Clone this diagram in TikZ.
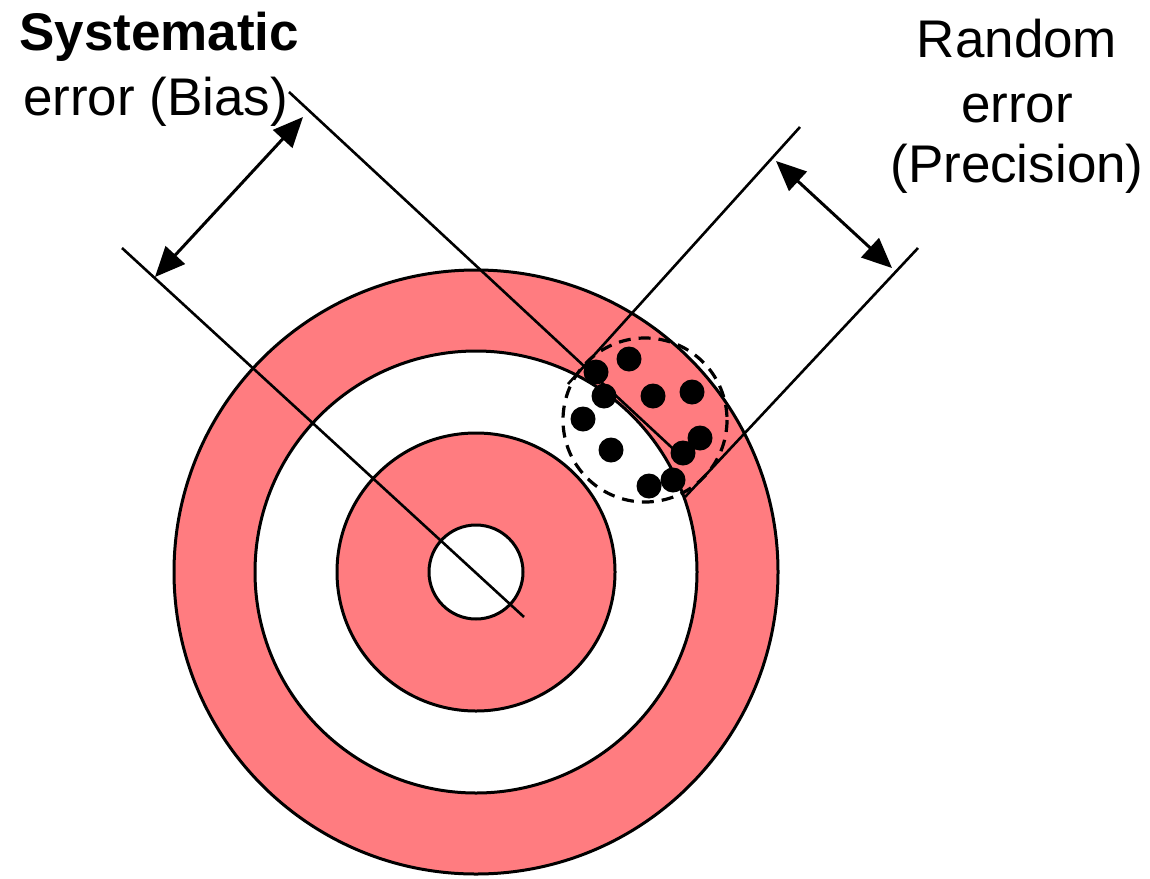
\documentclass[tikz,border=0pt]{standalone}
\usepackage{fontspec}
\setmainfont{Liberation Sans}
\usetikzlibrary{arrows.meta}
\definecolor{ringpink}{RGB}{255,124,128}
\tikzset{
  ring/.style={draw=black, line width=3pt},
  guide/.style={draw=black, line width=2.6pt},
  dimarrow/.style={draw=black, line width=3pt, {Triangle[length=30pt,width=26pt]}-{Triangle[length=30pt,width=26pt]}},
  shot/.style={circle, fill=black, inner sep=0pt, minimum size=25pt},
  spread/.style={draw=black, line width=3.2pt, dash pattern=on 12pt off 8pt},
  lbl/.style={font=\fontsize{53}{65}\selectfont, inner sep=0pt}
}
\begin{document}
\begin{tikzpicture}[x=1pt,y=-1pt]
\useasboundingbox (0,0) rectangle (1150,878);
% target
\coordinate (tc) at (476,572);
\filldraw[ring, fill=ringpink] (tc) circle (302);
\filldraw[ring, fill=white] (tc) circle (221);
\filldraw[ring, fill=ringpink] (tc) circle (139);
\filldraw[ring, fill=white] (tc) circle (47);
% guide lines
\coordinate (sa1) at (122,248);
\coordinate (sa2) at (524,617);
\coordinate (sb1) at (289,92);
\coordinate (sb2) at (683,458);
\coordinate (pa1) at (800,127);
\coordinate (pa2) at (568,384);
\coordinate (pb1) at (918,248);
\coordinate (pb2) at (685,497);
\draw[guide] (sa1) -- (sa2);
\draw[guide] (sb1) -- (sb2);
\draw[guide] (pa1) -- (pa2);
\draw[guide] (pb1) -- (pb2);
% dimension arrows
\coordinate (sarA) at (155,277);
\coordinate (sarB) at (303,117);
\coordinate (parA) at (776,161);
\coordinate (parB) at (892,268);
\draw[dimarrow] (sarA) -- (sarB);
\draw[dimarrow] (parA) -- (parB);
% spread circle
\coordinate (sc) at (645,420);
\draw[spread] (sc) circle (82);
% shots
\node[shot] (d1) at (629,359) {};
\node[shot] (d2) at (596,372) {};
\node[shot] (d3) at (604,396) {};
\node[shot] (d4) at (653,396) {};
\node[shot] (d5) at (692,392) {};
\node[shot] (d6) at (583,419) {};
\node[shot] (d7) at (611,450) {};
\node[shot] (d8) at (700,438) {};
\node[shot] (d9) at (683,453) {};
\node[shot] (d10) at (649,486) {};
\node[shot] (d11) at (673,480) {};
% labels
\node[lbl, anchor=base west] (sys1) at (19,50) {\bfseries Systematic};
\node[lbl, anchor=base west] (sys2) at (23,115) {error (Bias)};
\node[lbl, anchor=base] (rnd1) at (1017,57) {Random};
\node[lbl, anchor=base] (rnd2) at (1017,122) {error};
\node[lbl, anchor=base] (rnd3) at (1017,182) {(Precision)};
\end{tikzpicture}
\end{document}
